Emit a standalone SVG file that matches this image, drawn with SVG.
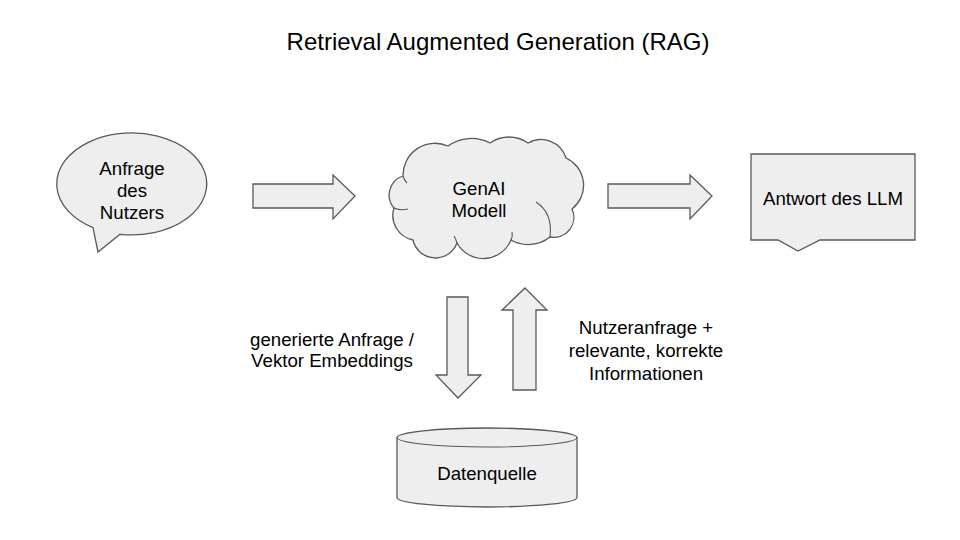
<svg xmlns="http://www.w3.org/2000/svg" width="960" height="540" viewBox="0 0 960 540">
<style>
.shape{fill:#eeeeee;stroke:#595959;stroke-width:1.3;stroke-linejoin:miter}
.t{font-family:"Liberation Sans",Arial,sans-serif;font-size:18.67px;fill:#000}
.c{text-anchor:middle}
.title{font-family:"Liberation Sans",Arial,sans-serif;font-size:24px;fill:#000;text-anchor:middle}
.inner{fill:none;stroke:#595959;stroke-width:1.1}
</style>
<rect width="960" height="540" fill="#ffffff"/>
<text class="title" x="498" y="50">Retrieval Augmented Generation (RAG)</text>

<g id="anfrage">
<path class="shape" d="M93,227.6 A75,51 0 1 1 120,234.3 L98,252 Z"/>
<text class="t c" x="132" y="175">Anfrage</text>
<text class="t c" x="132" y="197">des</text>
<text class="t c" x="132" y="219">Nutzers</text>
</g>

<g id="genai">
<path class="shape" d="M403,176 A32,32 0 0 1 448,146 A40,40 0 0 1 490,143 A33,33 0 0 1 528,143 A26,26 0 0 1 566,158 A30,30 0 0 1 572,209 A20,20 0 0 1 550,237 A35,35 0 0 1 511,240 A30,30 0 0 1 457,243 A23,23 0 0 1 413,240 A25,25 0 0 1 394,208 A20,20 0 0 1 403,176 Z"/>
<path class="inner" d="M394,208 Q401,211 408,209"/>
<path class="inner" d="M403,176 Q404,180 407,183"/>
<path class="inner" d="M550,237 Q553,213 536,202"/>
<path class="inner" d="M511,240 Q513,236 512,232"/>
<path class="inner" d="M457,243 Q456,239 454,236"/>
<text class="t c" x="479" y="195">GenAI</text>
<text class="t c" x="479" y="217">Modell</text>
</g>

<g id="antwort">
<path class="shape" d="M751,154 L915,154 L915,240 L820,240 L798,251 L778,240 L751,240 Z"/>
<text class="t c" x="833" y="205">Antwort des LLM</text>
</g>

<g id="datenquelle">
<path class="shape" d="M397,437.5 A90,9.5 0 0 1 577,437.5 L577,497.5 A90,9.5 0 0 1 397,497.5 Z"/>
<path class="inner" d="M397,437.5 A90,9.5 0 0 0 577,437.5"/>
<text class="t c" x="487" y="480">Datenquelle</text>
</g>

<g id="connectors">
<path class="shape" d="M253,184 L333,184 L333,175 L355,196 L333,219 L333,208 L253,208 Z"/>
<path class="shape" d="M608,184 L690,184 L690,175 L712,196 L690,219 L690,208 L608,208 Z"/>
<path class="shape" d="M447,297 L468,297 L468,375 L481,375 L458,398 L436,375 L447,375 Z"/>
<path class="shape" d="M513,390 L536,390 L536,310 L547,310 L525,288 L502,310 L513,310 Z"/>
<text class="t c" x="332" y="346">generierte Anfrage /</text>
<text class="t c" x="332" y="367">Vektor Embeddings</text>
<text class="t c" x="646" y="334">Nutzeranfrage +</text>
<text class="t c" x="646" y="357">relevante, korrekte</text>
<text class="t c" x="646" y="380">Informationen</text>
</g>
</svg>
